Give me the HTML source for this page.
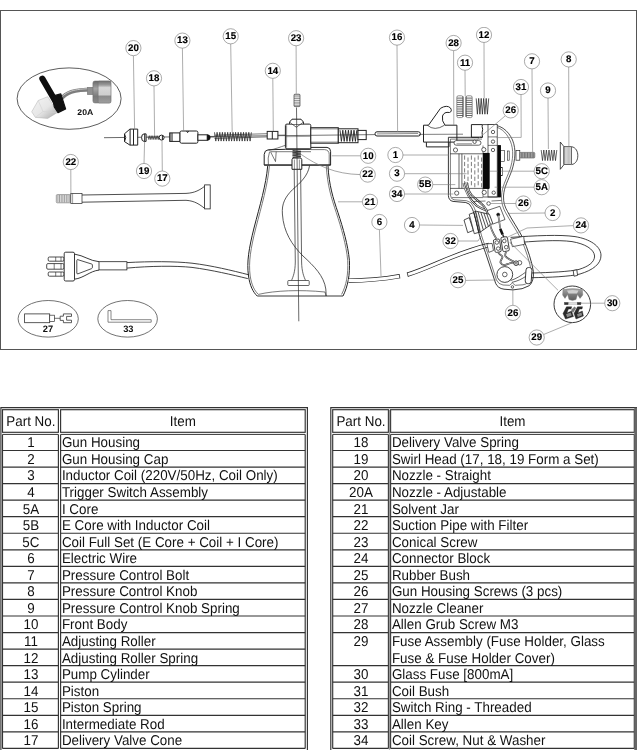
<!DOCTYPE html>
<html lang="en"><head><meta charset="utf-8"><title>Spray Gun Parts List</title>
<style>
html,body{margin:0;padding:0;background:#fff;}
body{width:637px;height:750px;overflow:hidden;position:relative;font-family:"Liberation Sans",Arial,sans-serif;}
svg{position:absolute;left:0;top:0;display:block;text-rendering:geometricPrecision;will-change:transform;font-family:"Liberation Sans",Arial,sans-serif;}
</style></head><body>
<svg width="637" height="750" viewBox="0 0 637 750">
<rect x="0.5" y="10.5" width="636" height="339" fill="#fff" stroke="#555" stroke-width="1"/>
<line x1="104.0" y1="137.7" x2="267.2" y2="135.8" stroke="#2a2a2a" stroke-width="0.7" />
<ellipse cx="69.1" cy="98.6" rx="52" ry="30.7" fill="#fff" stroke="#333" stroke-width="0.8"/>
<defs>
<linearGradient id="gnut" x1="0" y1="0" x2="0" y2="1"><stop offset="0" stop-color="#707070"/><stop offset="0.18" stop-color="#9a9a9a"/><stop offset="0.3" stop-color="#d8d8d8"/><stop offset="0.62" stop-color="#cfcfcf"/><stop offset="0.7" stop-color="#8c8c8c"/><stop offset="1" stop-color="#9e9e9e"/></linearGradient>
<linearGradient id="gnutl" x1="0" y1="0" x2="0" y2="1"><stop offset="0" stop-color="#6a6a6a"/><stop offset="0.35" stop-color="#a5a5a5"/><stop offset="0.7" stop-color="#7a7a7a"/><stop offset="1" stop-color="#8a8a8a"/></linearGradient>
<linearGradient id="gcone" x1="0" y1="0" x2="1" y2="1"><stop offset="0" stop-color="#f5f5f5"/><stop offset="0.55" stop-color="#e6e6e6"/><stop offset="1" stop-color="#a9a9a9"/></linearGradient>
</defs>
<path d="M60.5,99.5 C66,92.5 73,89.4 93,89.4" fill="none" stroke="#7d7d7d" stroke-width="4.0" />
<path d="M60.2,98.7 C66,91.7 73,88.7 93,88.7" fill="none" stroke="#c6c6c6" stroke-width="1.0" />
<rect x="87.2" y="87.2" width="6.6" height="7.6" rx="0" fill="#909090" stroke="#707070" stroke-width="0.4"/>
<rect x="92.9" y="81" width="18" height="22" rx="2" fill="url(#gnutl)" stroke="#6a6a6a" stroke-width="0.5"/>
<rect x="98.2" y="81" width="12.7" height="22" rx="1.2" fill="url(#gnut)" stroke="#6a6a6a" stroke-width="0.4"/>
<path d="M31.7,111.8 L38.2,100.5 L47.7,96.7 L54.3,107 L57,112.7 L47.7,118.4 L35.4,117.4 Z" fill="url(#gcone)" stroke="#b0b0b0" stroke-width="0.5" />
<path d="M38.2,100.5 L43,111.5 L35.4,117.4 M43,111.5 L57,112.7" fill="none" stroke="#d2d2d2" stroke-width="0.6" />
<path d="M42.4,78.8 L58.5,106.5" fill="none" stroke="#0e0e0e" stroke-width="6.2" stroke-linecap="round"/>
<path d="M52.4,96.2 L60.8,93.9 L65.6,109 L58,112.7 L54.3,107 Z" fill="#101010" stroke="#101010" stroke-width="1.2" stroke-linejoin="round"/>
<text transform="translate(85.3,115) scale(1.06,1)" font-size="8.2" font-weight="bold" text-anchor="middle" fill="#111">20A</text>
<path d="M124.5,133.8 L129.9,129.1 H137.7 V145.1 H129.9 L124.5,141.6 Z" fill="#fff" stroke="#222" stroke-width="1.0" />
<line x1="130.1" y1="129.1" x2="130.1" y2="145.1" stroke="#222" stroke-width="1.0" />
<line x1="133.5" y1="129.1" x2="133.5" y2="145.1" stroke="#222" stroke-width="1.0" />
<path d="M124.5,133.8 Q127,137.5 124.5,141.6" fill="none" stroke="#222" stroke-width="1.0" />
<path d="M146.1,133.9 H144 Q141.6,134 141.6,137.6 Q141.6,141.3 144,141.4 H146.1 Z" fill="#fff" stroke="#222" stroke-width="1.0" />
<line x1="144.7" y1="133.9" x2="144.7" y2="141.4" stroke="#222" stroke-width="1.0" />
<polyline points="148.0,135.7 148.8,139.5 149.6,135.7 150.4,139.5 151.2,135.7 152.0,139.5 152.8,135.7 153.7,139.5 154.5,135.7 155.3,139.5 156.1,135.7 156.9,139.5 157.7,135.7 158.5,139.5 159.3,135.7" fill="none" stroke="#222" stroke-width="0.6"/>
<circle cx="161.6" cy="137.6" r="2.5" fill="#fff" stroke="#222" stroke-width="1.0"/>
<line x1="162.4" y1="135.3" x2="162.4" y2="139.9" stroke="#222" stroke-width="1.0" />
<rect x="169.7" y="132.9" width="10.3" height="8.5" rx="0" fill="#fff" stroke="#222" stroke-width="1.0"/>
<line x1="170.2" y1="132.9" x2="170.2" y2="141.4" stroke="#222" stroke-width="0.6" />
<line x1="171.3" y1="132.9" x2="171.3" y2="141.4" stroke="#222" stroke-width="0.6" />
<line x1="172.4" y1="132.9" x2="172.4" y2="141.4" stroke="#222" stroke-width="0.6" />
<rect x="180" y="131" width="17.9" height="12.2" rx="1.5" fill="#fff" stroke="#222" stroke-width="1.0"/>
<path d="M186.6,131 L187.6,132.6 L188.6,131" fill="none" stroke="#222" stroke-width="1.0" />
<rect x="197.9" y="134.8" width="9.4" height="5.5" rx="0" fill="#fff" stroke="#222" stroke-width="1.0"/>
<path d="M207.3,134.8 H208.2 Q210.3,135 210.3,137.5 Q210.3,140 208.2,140.3 H207.3 Z" fill="#111" stroke="#111" stroke-width="0.5" />
<line x1="210.3" y1="137.0" x2="214.5" y2="137.0" stroke="#222" stroke-width="0.7" />
<polyline points="214.5,132.3 215.8,141.1 217.1,132.3 218.5,141.1 219.8,132.3 221.1,141.1 222.4,132.3 223.7,141.1 225.0,132.3 226.4,141.1 227.7,132.3 229.0,141.1 230.3,132.3 231.6,141.1 233.0,132.3 234.3,141.1 235.6,132.3 236.9,141.1 238.2,132.3 239.5,141.1 240.9,132.3 242.2,141.1 243.5,132.3 244.8,141.1 246.1,132.3 247.4,141.1 248.8,132.3 250.1,141.1 251.4,132.3" fill="none" stroke="#222" stroke-width="0.75"/>
<line x1="214.5" y1="135.2" x2="267.2" y2="133.7" stroke="#222" stroke-width="0.6" />
<line x1="214.5" y1="138.4" x2="267.2" y2="136.9" stroke="#222" stroke-width="0.6" />
<rect x="267.2" y="131.4" width="10.7" height="7.6" rx="0" fill="#fff" stroke="#222" stroke-width="1.0"/>
<line x1="272.3" y1="131.4" x2="272.3" y2="139.0" stroke="#222" stroke-width="1.0" />
<line x1="277.9" y1="135.2" x2="285.6" y2="135.1" stroke="#222" stroke-width="0.6" />
<rect x="294.0" y="94.2" width="6.0" height="12.4" rx="1" fill="#fff" stroke="#222" stroke-width="0.6"/>
<line x1="294.0" y1="95.1" x2="300.0" y2="95.1" stroke="#444" stroke-width="0.6" />
<line x1="294.0" y1="96.9" x2="300.0" y2="96.9" stroke="#444" stroke-width="0.6" />
<line x1="294.0" y1="98.6" x2="300.0" y2="98.6" stroke="#444" stroke-width="0.6" />
<line x1="294.0" y1="100.4" x2="300.0" y2="100.4" stroke="#444" stroke-width="0.6" />
<line x1="294.0" y1="102.2" x2="300.0" y2="102.2" stroke="#444" stroke-width="0.6" />
<line x1="294.0" y1="103.9" x2="300.0" y2="103.9" stroke="#444" stroke-width="0.6" />
<line x1="294.0" y1="105.7" x2="300.0" y2="105.7" stroke="#444" stroke-width="0.6" />
<path d="M267.7,166 C266,185 260,205 254,228 C249,248 246.5,262 248.5,276 C250,286 253,292 257.2,296" fill="none" stroke="#222" stroke-width="1.0" />
<path d="M328,166 C329,185 333,198 338,212.7 C343,228 348,245 349.4,260.4 C350,275 348,286 343,296" fill="none" stroke="#222" stroke-width="1.0" />
<path d="M269.4,166 C267.7,185 261.8,205 255.8,228 C250.8,248 248.3,262 250.2,276 C251.6,285 254.4,290.6 258.4,294.4 " fill="none" stroke="#222" stroke-width="0.6" />
<path d="M326.3,166 C327.3,185 331.3,198 336.3,212.7 C341.3,228 346.3,245 347.7,260.4 C348.3,275 346.4,285 341.6,294.4" fill="none" stroke="#222" stroke-width="0.6" />
<line x1="257.2" y1="296.0" x2="343.0" y2="296.0" stroke="#222" stroke-width="0.9" />
<path d="M258.4,294.4 C275,290.5 300,289.5 325,292 L326,296" fill="none" stroke="#222" stroke-width="0.6" />
<path d="M309.6,165.5 C308,176 300,183 292.7,189.5 C285,197 281.6,204 282.4,214 C283.5,232 292,245 303,256 C314,266 324,276 325.8,289 L326.2,296" fill="none" stroke="#222" stroke-width="0.75" />
<path d="M294.2,169 L295.3,262 C295.2,272 293,277 291.5,280.5 M300.6,169 L301.6,262 C301.8,272 304,277 305.6,280.5" fill="none" stroke="#222" stroke-width="0.7" />
<rect x="287.8" y="280.5" width="21.4" height="5.0" rx="0.8" fill="#fff" stroke="#222" stroke-width="0.7"/>
<path d="M264.2,165 V154.5 Q264.4,150.2 268.2,149.8 L285.4,149.3 H310.8 V147.4 H327 Q330.6,147.6 330.6,151.5 V165 Z" fill="#fff" stroke="#222" stroke-width="1.0" />
<path d="M311,149.6 H324.5 Q329.2,150 329.2,154.5 V165" fill="none" stroke="#222" stroke-width="0.6" />
<path d="M270.5,151.7 H311" fill="none" stroke="#222" stroke-width="0.6" />
<path d="M270.5,151.7 L275.5,161.6 L276.2,151.7 M269.6,151.7 Q267.4,158 268.4,164.6" fill="none" stroke="#222" stroke-width="0.6" />
<line x1="264.2" y1="165.1" x2="330.6" y2="165.1" stroke="#222" stroke-width="1.0" />
<path d="M268.4,150.3 C276,149 280,147 285.4,145.3" fill="none" stroke="#222" stroke-width="0.6" />
<polyline points="292.5,150.4 300.9,151.3 292.5,152.2 300.9,153.1 292.5,154.0 300.9,154.9 292.5,155.8 300.9,156.7 292.5,157.6" fill="none" stroke="#222" stroke-width="0.8"/>
<path d="M293,158 H300.8 L301.8,159.6 V169.3 H292 V159.6 Z" fill="#fff" stroke="#222" stroke-width="1.0" />
<line x1="294.4" y1="159.6" x2="294.4" y2="169.3" stroke="#222" stroke-width="0.5" />
<line x1="299.4" y1="159.6" x2="299.4" y2="169.3" stroke="#222" stroke-width="0.5" />
<rect x="285.4" y="124.1" width="25.4" height="24.7" rx="1.5" fill="#fff" stroke="#222" stroke-width="1.0"/>
<path d="M289.6,124.1 V122 L292,119.2 H301 L303.4,122 V124.1" fill="#fff" stroke="#222" stroke-width="1.0" />
<path d="M289.8,122.4 L296.3,127.2 L303.2,122.4" fill="none" stroke="#222" stroke-width="0.7" />
<line x1="286.6" y1="125.2" x2="286.6" y2="147.8" stroke="#222" stroke-width="0.5" />
<line x1="285.4" y1="136.7" x2="310.8" y2="136.4" stroke="#444" stroke-width="0.5" />
<rect x="310.8" y="127.7" width="27.5" height="15.5" rx="0" fill="#fff" stroke="#222" stroke-width="1.0"/>
<line x1="310.8" y1="128.9" x2="338.3" y2="128.9" stroke="#222" stroke-width="0.5" />
<line x1="310.8" y1="142.1" x2="338.3" y2="142.1" stroke="#222" stroke-width="0.5" />
<rect x="338.3" y="128.8" width="19.7" height="13.9" rx="0" fill="#fff" stroke="#222" stroke-width="1.0"/>
<polyline points="340.0,130.2 341.4,141.4 342.8,130.2 344.2,141.4 345.6,130.2 347.0,141.4 348.4,130.2 349.8,141.4 351.2,130.2 352.6,141.4 354.0,130.2 355.4,141.4 356.8,130.2" fill="none" stroke="#222" stroke-width="0.9"/>
<rect x="358.0" y="130.4" width="8.2" height="9.2" rx="0" fill="#fff" stroke="#222" stroke-width="1.0"/>
<rect x="375" y="131.8" width="45.4" height="4.2" rx="2" fill="#fff" stroke="#222" stroke-width="1.0"/>
<line x1="377.0" y1="133.9" x2="418.0" y2="133.5" stroke="#222" stroke-width="0.5" />
<line x1="277.9" y1="135.7" x2="375.0" y2="134.6" stroke="#2a2a2a" stroke-width="0.65" />
<rect x="456.8" y="95.8" width="6.2" height="21.8" rx="1.6" fill="#fff" stroke="#444" stroke-width="0.6"/>
<rect x="466" y="95.8" width="6.2" height="21.8" rx="1.6" fill="#fff" stroke="#444" stroke-width="0.6"/>
<line x1="457.0" y1="98.1" x2="462.9" y2="98.1" stroke="#666" stroke-width="1.0" />
<line x1="457.0" y1="100.3" x2="462.9" y2="100.3" stroke="#666" stroke-width="1.0" />
<line x1="457.0" y1="102.4" x2="462.9" y2="102.4" stroke="#666" stroke-width="1.0" />
<line x1="457.0" y1="104.6" x2="462.9" y2="104.6" stroke="#666" stroke-width="1.0" />
<line x1="457.0" y1="106.8" x2="462.9" y2="106.8" stroke="#666" stroke-width="1.0" />
<line x1="457.0" y1="109.0" x2="462.9" y2="109.0" stroke="#666" stroke-width="1.0" />
<line x1="457.0" y1="111.2" x2="462.9" y2="111.2" stroke="#666" stroke-width="1.0" />
<line x1="457.0" y1="113.3" x2="462.9" y2="113.3" stroke="#666" stroke-width="1.0" />
<line x1="457.0" y1="115.5" x2="462.9" y2="115.5" stroke="#666" stroke-width="1.0" />
<line x1="466.1" y1="98.1" x2="472.0" y2="98.1" stroke="#666" stroke-width="1.0" />
<line x1="466.1" y1="100.3" x2="472.0" y2="100.3" stroke="#666" stroke-width="1.0" />
<line x1="466.1" y1="102.4" x2="472.0" y2="102.4" stroke="#666" stroke-width="1.0" />
<line x1="466.1" y1="104.6" x2="472.0" y2="104.6" stroke="#666" stroke-width="1.0" />
<line x1="466.1" y1="106.8" x2="472.0" y2="106.8" stroke="#666" stroke-width="1.0" />
<line x1="466.1" y1="109.0" x2="472.0" y2="109.0" stroke="#666" stroke-width="1.0" />
<line x1="466.1" y1="111.2" x2="472.0" y2="111.2" stroke="#666" stroke-width="1.0" />
<line x1="466.1" y1="113.3" x2="472.0" y2="113.3" stroke="#666" stroke-width="1.0" />
<line x1="466.1" y1="115.5" x2="472.0" y2="115.5" stroke="#666" stroke-width="1.0" />
<line x1="463.0" y1="96.4" x2="463.0" y2="117.0" stroke="#333" stroke-width="0.7" />
<line x1="466.0" y1="96.4" x2="466.0" y2="117.0" stroke="#333" stroke-width="0.7" />
<line x1="476.2" y1="98.4" x2="477.4" y2="114.2" stroke="#222" stroke-width="0.75" />
<line x1="477.4" y1="114.2" x2="478.7" y2="98.4" stroke="#222" stroke-width="0.75" />
<line x1="478.7" y1="98.4" x2="479.9" y2="114.2" stroke="#222" stroke-width="0.75" />
<line x1="479.9" y1="114.2" x2="481.2" y2="98.4" stroke="#222" stroke-width="0.75" />
<line x1="481.2" y1="98.4" x2="482.4" y2="114.2" stroke="#222" stroke-width="0.75" />
<line x1="482.4" y1="114.2" x2="483.7" y2="98.4" stroke="#222" stroke-width="0.75" />
<line x1="483.7" y1="98.4" x2="484.9" y2="114.2" stroke="#222" stroke-width="0.75" />
<line x1="484.9" y1="114.2" x2="486.2" y2="98.4" stroke="#222" stroke-width="0.75" />
<line x1="486.2" y1="98.4" x2="487.4" y2="114.2" stroke="#222" stroke-width="0.75" />
<line x1="487.4" y1="114.2" x2="488.7" y2="98.4" stroke="#222" stroke-width="0.75" />
<path d="M423.5,125.2 H428.5 L440.5,108.3 Q447,104.5 450.5,108 Q452.5,111.5 449.5,112.5 Q444,111.5 442.5,116 Q441.5,121 445,125.2 H456.9 V142.1 H449 V146.9 H426.4 V142.1 H423.5 Z" fill="#fff" stroke="#222" stroke-width="1.0" />
<line x1="426.4" y1="142.1" x2="449.0" y2="142.1" stroke="#222" stroke-width="1.0" />
<path d="M427.3,125.2 Q434.5,131.6 444.6,125.2" fill="none" stroke="#222" stroke-width="0.7" />
<line x1="418.8" y1="134.4" x2="463.0" y2="134.2" stroke="#2a2a2a" stroke-width="0.6" />
<path d="M126.9,262.6 C150,261.3 175,261.3 192,263.2 C212,265.6 232,270.5 248.8,274.8 M126.9,268.1 C150,266 175,265.6 192,267.4 C212,270 232,274.8 247.8,278.6" fill="none" stroke="#222" stroke-width="0.85" />
<path d="M348.6,280.6 C365,280.6 385,278.8 399.5,276.2" fill="none" stroke="#222" stroke-width="4.4"/>
<path d="M348.6,280.6 C365,280.6 385,278.8 399.5,276.2" fill="none" stroke="#fff" stroke-width="3.0"/>
<line x1="399.2" y1="274.0" x2="399.9" y2="278.4" stroke="#222" stroke-width="0.7" />
<path d="M407.6,274.6 C430,268 455,253 489,245" fill="none" stroke="#222" stroke-width="4.4"/>
<path d="M407.6,274.6 C430,268 455,253 489,245" fill="none" stroke="#fff" stroke-width="3.0"/>
<line x1="407.2" y1="272.5" x2="408.2" y2="276.8" stroke="#222" stroke-width="0.7" />
<path d="M510.6,237.4 C535,235.6 560,234.4 575,236.6 C590,239 600.5,246 601,255 C601.2,264 593,270 580,274 C570,276.6 550,277.4 531,277.7 M510.6,243.2 C535,241 558,239.6 572,241.6 C585,243.8 594,249 594.6,256 C594.6,262.5 588,266.6 579,269.4 C570,271.6 550,272.6 531,273" fill="#fff" stroke="#222" stroke-width="0.85" />
<path d="M573.2,270.6 L576.8,269.8 L577.6,275.4 L574,276.2 Z" fill="#fff" stroke="#222" stroke-width="0.8" />
<path d="M482.4,124.6 H488 C500,124 508,130 512.5,140 C516.5,150 515,160 512,170 C508,181 504,187 503.5,196 C503.3,203 505,207 507.5,211.5" fill="#fff" stroke="#222" stroke-width="0.8" />
<path d="M490,126 C500,126.5 506,131.5 510.3,141 C514,150 513,160 510,169.5 C506,180 502,186.5 501.5,196 C501.3,203 503,208 505.5,212.5" fill="none" stroke="#222" stroke-width="0.6" />
<path d="M471.4,137.3 V124.6 H482.4 C481.4,127 483.4,129 482.4,131 C481.4,133.5 483,135.5 482.4,137.3 Z" fill="#fff" stroke="#222" stroke-width="1.0" />
<path d="M448.4,195.5 V137.3 H482.4 M448.4,195.5 Q448.6,200.6 453,201.4 L465.8,202.5 Q470,203.2 471.6,207.5" fill="none" stroke="#222" stroke-width="0.9" />
<path d="M450.4,195 V139.1 H482 M450.4,195 Q450.8,199.3 454,199.8 L466.4,200.7 Q471.6,201.6 473.6,206.5" fill="none" stroke="#222" stroke-width="0.6" />
<rect x="488.0" y="124.6" width="9.2" height="72.4" rx="0" fill="#fff" stroke="#222" stroke-width="0.7"/>
<line x1="488.0" y1="136.9" x2="497.2" y2="136.9" stroke="#222" stroke-width="0.6" />
<line x1="488.0" y1="145.4" x2="497.2" y2="145.4" stroke="#222" stroke-width="0.6" />
<circle cx="493.0" cy="132.0" r="1.7" fill="#fff" stroke="#222" stroke-width="0.7"/>
<circle cx="493.0" cy="141.6" r="1.7" fill="#fff" stroke="#222" stroke-width="0.7"/>
<circle cx="493.0" cy="150.0" r="1.7" fill="#fff" stroke="#222" stroke-width="0.7"/>
<circle cx="493.7" cy="192.7" r="1.7" fill="#fff" stroke="#222" stroke-width="0.7"/>
<rect x="454" y="140.6" width="27" height="4.6" rx="2.3" fill="#fff" stroke="#222" stroke-width="0.7"/>
<path d="M456.5,143.8 H472" fill="none" stroke="#222" stroke-width="0.5" />
<circle cx="474.6" cy="141.8" r="1.7" fill="#fff" stroke="#222" stroke-width="0.7"/>
<line x1="450.2" y1="153.8" x2="483.0" y2="153.8" stroke="#222" stroke-width="0.7" />
<line x1="450.2" y1="188.4" x2="483.0" y2="188.4" stroke="#222" stroke-width="0.7" />
<line x1="459.0" y1="153.8" x2="459.0" y2="188.4" stroke="#222" stroke-width="0.7" />
<line x1="461.9" y1="153.8" x2="461.9" y2="188.4" stroke="#222" stroke-width="0.7" />
<line x1="483.0" y1="145.5" x2="483.0" y2="197.0" stroke="#222" stroke-width="0.6" />
<line x1="464.6" y1="155.5" x2="464.6" y2="187.5" stroke="#444" stroke-width="0.7" stroke-dasharray="4.2 2.2"/>
<line x1="468.0" y1="157.5" x2="468.0" y2="187.5" stroke="#444" stroke-width="0.7" stroke-dasharray="4.2 2.2"/>
<line x1="471.4" y1="155.5" x2="471.4" y2="187.5" stroke="#444" stroke-width="0.7" stroke-dasharray="4.2 2.2"/>
<line x1="474.8" y1="157.5" x2="474.8" y2="187.5" stroke="#444" stroke-width="0.7" stroke-dasharray="4.2 2.2"/>
<line x1="478.2" y1="155.5" x2="478.2" y2="187.5" stroke="#444" stroke-width="0.7" stroke-dasharray="4.2 2.2"/>
<line x1="481.6" y1="157.5" x2="481.6" y2="187.5" stroke="#444" stroke-width="0.7" stroke-dasharray="4.2 2.2"/>
<circle cx="455.5" cy="150.0" r="2.1" fill="#fff" stroke="#222" stroke-width="0.7"/>
<circle cx="483.8" cy="149.6" r="2.1" fill="#fff" stroke="#222" stroke-width="0.7"/>
<circle cx="456.7" cy="193.1" r="2.1" fill="#fff" stroke="#222" stroke-width="0.7"/>
<circle cx="484.2" cy="192.4" r="2.1" fill="#fff" stroke="#222" stroke-width="0.7"/>
<rect x="483.2" y="153.1" width="6.0" height="35.6" rx="0" fill="#0a0a0a" stroke="#0a0a0a" stroke-width="0.3"/>
<rect x="497.9" y="145.4" width="2.8" height="51.5" rx="0" fill="#0a0a0a" stroke="#0a0a0a" stroke-width="0.3"/>
<rect x="500.7" y="150.3" width="3.6" height="11.3" rx="0" fill="#fff" stroke="#222" stroke-width="0.6"/>
<rect x="507.5" y="151.0" width="1.7" height="9.2" rx="0" fill="#fff" stroke="#222" stroke-width="0.6"/>
<rect x="500.7" y="167.3" width="1.7" height="8.4" rx="0" fill="#fff" stroke="#222" stroke-width="0.6"/>
<path d="M463.6,183.3 C466,193 470,200 476.3,205.3 C484,210.5 492,212 497.1,214.6" fill="none" stroke="#2a2a2a" stroke-width="2.1" />
<path d="M463.6,183.3 C466,193 470,200 476.3,205.3 C484,210.5 492,212 497.1,214.6" fill="none" stroke="#fff" stroke-width="0.9" />
<path d="M466.4,182.2 C468,190 470,194 473,196.5 C478,201 482,204 484,206.4 C487,210 489,217 490,224" fill="none" stroke="#2a2a2a" stroke-width="2.1" />
<path d="M466.4,182.2 C468,190 470,194 473,196.5 C478,201 482,204 484,206.4 C487,210 489,217 490,224" fill="none" stroke="#fff" stroke-width="0.9" />
<path d="M452,197.6 H483 M474,201.5 L485.5,201 M491.5,201 L501.5,200.4" fill="none" stroke="#222" stroke-width="0.6" />
<line x1="483.0" y1="197.0" x2="501.0" y2="197.0" stroke="#222" stroke-width="0.7" />
<circle cx="488.6" cy="203.5" r="1.8" fill="#fff" stroke="#222" stroke-width="0.7"/>
<path d="M487.1,210.6 L499.8,206.3 L505,219.5 L492.5,224.2 Z" fill="#fff" stroke="#222" stroke-width="0.7" />
<path d="M464,220 L469.2,217.6 L473.4,230.4 L467.7,232.7 Z" fill="#fff" stroke="#222" stroke-width="0.8" />
<path d="M469.2,214.3 L473.9,212.5 L479,232.3 L474.3,233.7 Z" fill="#fff" stroke="#222" stroke-width="0.8" />
<path d="M473.9,212.5 L475.3,211 L489.4,214.3 L492.7,223.3 L480,232.3 L479,232.3 Z" fill="#fff" stroke="#222" stroke-width="0.8" />
<line x1="475.3" y1="211.0" x2="480.0" y2="232.3" stroke="#222" stroke-width="0.8" />
<line x1="478.1" y1="212.0" x2="483.3" y2="229.9" stroke="#222" stroke-width="0.8" />
<line x1="480.9" y1="212.5" x2="486.1" y2="228.0" stroke="#222" stroke-width="0.8" />
<line x1="483.8" y1="212.9" x2="488.5" y2="226.6" stroke="#222" stroke-width="0.8" />
<line x1="486.6" y1="213.4" x2="490.8" y2="225.2" stroke="#222" stroke-width="0.8" />
<path d="M471.6,207.5 C474,212 475.5,218 478,230 C480,238 483,246 485.5,252.8 L495.6,283.2 Q497.8,288.4 504,289.2 L513,289.9 Q523,289.6 529.4,285.6 Q534,281 533.4,271.6 C532,262 527.5,248.5 523.2,238.7 C519,230 511.5,219.5 507.5,211.5" fill="none" stroke="#222" stroke-width="0.9" />
<path d="M473.6,206.5 C476,211 477.6,218 480,230 C482,238 485,246 487.5,252.5 L496.4,279.8 Q498.4,284.4 503,285 L509.6,285.3 L512.4,282.9 L515.2,285.3 L523,284.8 Q529,283.6 530.6,279 Q531.8,276 531.4,271.8 C530,262.5 525.5,249 521.3,239.5 C517,231 509.5,220 505.5,212.5" fill="none" stroke="#222" stroke-width="0.6" />
<circle cx="498.2" cy="214.6" r="1.6" fill="#111" stroke="#111" stroke-width="0.4"/>
<path d="M498.3,215.5 L500.3,228.5" fill="none" stroke="#333" stroke-width="1.6" />
<path d="M498.3,215.5 L500.3,228.5" fill="none" stroke="#fff" stroke-width="0.6" />
<path d="M500.2,228.8 L502.6,234.4" fill="none" stroke="#111" stroke-width="2.6" />
<path d="M502.6,234.4 L504.5,238.5" fill="none" stroke="#333" stroke-width="1.4" />
<path d="M490,224 C491,230 493.5,234 496.3,238.6" fill="none" stroke="#333" stroke-width="1.6" />
<path d="M490,224 C491,230 493.5,234 496.3,238.6" fill="none" stroke="#fff" stroke-width="0.6" />
<rect x="494.2" y="239.2" width="6.2" height="13" rx="1.4" fill="#fff" stroke="#222" stroke-width="0.8" transform="rotate(-9 497.3 245.7)"/>
<rect x="501.8" y="236.9" width="6.6" height="14.4" rx="1.4" fill="#fff" stroke="#222" stroke-width="0.8" transform="rotate(-9 505.1 244.1)"/>
<circle cx="496.8" cy="242.5" r="1.8" fill="#fff" stroke="#222" stroke-width="0.7"/>
<circle cx="498.2" cy="248.6" r="1.8" fill="#fff" stroke="#222" stroke-width="0.7"/>
<circle cx="504.3" cy="241.0" r="1.8" fill="#fff" stroke="#222" stroke-width="0.7"/>
<circle cx="506.2" cy="247.2" r="1.8" fill="#fff" stroke="#222" stroke-width="0.7"/>
<path d="M486.9,243.9 L492.1,243.4 L493.5,250.5 L488.8,252.4 Z" fill="#fff" stroke="#222" stroke-width="0.7" />
<path d="M510.5,239.2 L523.7,236.3 L524.6,244.3 L512.4,246.7 Z" fill="#fff" stroke="#222" stroke-width="0.7" />
<path d="M498.2,252.4 C499.5,255 502.8,255.6 502.5,257.1 C502,259.5 499.6,261 500.6,262.7 C501.4,264.4 502.6,265.1 503.9,265.1 C507,264.6 510,262.6 514.2,262.7" fill="none" stroke="#2a2a2a" stroke-width="1.7" />
<path d="M498.2,252.4 C499.5,255 502.8,255.6 502.5,257.1 C502,259.5 499.6,261 500.6,262.7 C501.4,264.4 502.6,265.1 503.9,265.1 C507,264.6 510,262.6 514.2,262.7" fill="none" stroke="#fff" stroke-width="0.6" />
<path d="M506.2,251.4 C505.6,253 504.8,254.6 505.3,256.1 C507,258.6 510.5,260 513.8,261.6" fill="none" stroke="#2a2a2a" stroke-width="1.7" />
<path d="M506.2,251.4 C505.6,253 504.8,254.6 505.3,256.1 C507,258.6 510.5,260 513.8,261.6" fill="none" stroke="#fff" stroke-width="0.6" />
<circle cx="519.6" cy="262.8" r="2.2" fill="#fff" stroke="#222" stroke-width="0.7"/>
<circle cx="516.1" cy="263.2" r="2.3" fill="#fff" stroke="#222" stroke-width="0.9"/>
<circle cx="516.1" cy="263.2" r="0.9" fill="#fff" stroke="#222" stroke-width="0.6"/>
<circle cx="504.8" cy="274.5" r="7.9" fill="#fff" stroke="#222" stroke-width="0.85"/>
<circle cx="504.8" cy="274.5" r="2.3" fill="#fff" stroke="#222" stroke-width="0.7"/>
<path d="M510.5,280.6 C517,278.5 521,275.5 525.6,272.2" fill="none" stroke="#222" stroke-width="0.7" />
<path d="M511.8,282.4 C518,281 522,279 526,276.2" fill="none" stroke="#222" stroke-width="0.7" />
<rect x="525.6" y="267.5" width="6" height="16.2" rx="2.6" fill="#fff" stroke="#222" stroke-width="0.85" transform="rotate(4 528.6 275.6)"/>
<circle cx="512.4" cy="286.9" r="1.25" fill="#fff" stroke="#222" stroke-width="0.7"/>
<rect x="516.0" y="150.4" width="3.8" height="9.8" rx="0" fill="#fff" stroke="#222" stroke-width="0.7"/>
<rect x="519.8" y="152.4" width="15" height="5.6" rx="1" fill="#bbb" stroke="#555" stroke-width="0.6"/>
<line x1="521.3" y1="152.6" x2="521.3" y2="157.8" stroke="#555" stroke-width="0.7" />
<line x1="522.8" y1="152.6" x2="522.8" y2="157.8" stroke="#555" stroke-width="0.7" />
<line x1="524.4" y1="152.6" x2="524.4" y2="157.8" stroke="#555" stroke-width="0.7" />
<line x1="525.9" y1="152.6" x2="525.9" y2="157.8" stroke="#555" stroke-width="0.7" />
<line x1="527.5" y1="152.6" x2="527.5" y2="157.8" stroke="#555" stroke-width="0.7" />
<line x1="529.1" y1="152.6" x2="529.1" y2="157.8" stroke="#555" stroke-width="0.7" />
<line x1="530.6" y1="152.6" x2="530.6" y2="157.8" stroke="#555" stroke-width="0.7" />
<line x1="532.2" y1="152.6" x2="532.2" y2="157.8" stroke="#555" stroke-width="0.7" />
<line x1="533.7" y1="152.6" x2="533.7" y2="157.8" stroke="#555" stroke-width="0.7" />
<line x1="541.2" y1="150.0" x2="542.5" y2="160.6" stroke="#222" stroke-width="0.7" />
<line x1="542.5" y1="160.6" x2="543.8" y2="150.0" stroke="#222" stroke-width="0.7" />
<line x1="543.8" y1="150.0" x2="545.1" y2="160.6" stroke="#222" stroke-width="0.7" />
<line x1="545.1" y1="160.6" x2="546.4" y2="150.0" stroke="#222" stroke-width="0.7" />
<line x1="546.4" y1="150.0" x2="547.7" y2="160.6" stroke="#222" stroke-width="0.7" />
<line x1="547.7" y1="160.6" x2="549.0" y2="150.0" stroke="#222" stroke-width="0.7" />
<line x1="549.0" y1="150.0" x2="550.3" y2="160.6" stroke="#222" stroke-width="0.7" />
<line x1="550.3" y1="160.6" x2="551.6" y2="150.0" stroke="#222" stroke-width="0.7" />
<line x1="551.6" y1="150.0" x2="552.9" y2="160.6" stroke="#222" stroke-width="0.7" />
<line x1="552.9" y1="160.6" x2="554.2" y2="150.0" stroke="#222" stroke-width="0.7" />
<line x1="554.2" y1="150.0" x2="555.5" y2="160.6" stroke="#222" stroke-width="0.7" />
<line x1="555.5" y1="160.6" x2="556.8" y2="150.0" stroke="#222" stroke-width="0.7" />
<path d="M560.3,142 V169.3 L564,164.6 V146.7 Z" fill="#fff" stroke="#222" stroke-width="0.8" />
<path d="M571.6,146.7 C576,147.5 577.8,151.5 577.8,155.6 C577.8,160 576,163.8 571.6,164.6" fill="#fff" stroke="#222" stroke-width="0.8" />
<rect x="564.0" y="146.7" width="7.6" height="17.9" rx="0" fill="#fff" stroke="#222" stroke-width="0.7"/>
<line x1="564.6" y1="147.0" x2="564.6" y2="164.3" stroke="#777" stroke-width="0.5" />
<line x1="565.9" y1="147.0" x2="565.9" y2="164.3" stroke="#777" stroke-width="0.5" />
<line x1="567.2" y1="147.0" x2="567.2" y2="164.3" stroke="#777" stroke-width="0.5" />
<line x1="568.4" y1="147.0" x2="568.4" y2="164.3" stroke="#777" stroke-width="0.5" />
<line x1="569.7" y1="147.0" x2="569.7" y2="164.3" stroke="#777" stroke-width="0.5" />
<line x1="571.0" y1="147.0" x2="571.0" y2="164.3" stroke="#777" stroke-width="0.5" />
<rect x="56.3" y="194.6" width="14.5" height="8.2" rx="1" fill="#f0f0f0" stroke="#666" stroke-width="0.6"/>
<line x1="57.9" y1="195.0" x2="57.9" y2="202.4" stroke="#7a7a7a" stroke-width="0.7" />
<line x1="59.5" y1="195.0" x2="59.5" y2="202.4" stroke="#7a7a7a" stroke-width="0.7" />
<line x1="61.2" y1="195.0" x2="61.2" y2="202.4" stroke="#7a7a7a" stroke-width="0.7" />
<line x1="62.9" y1="195.0" x2="62.9" y2="202.4" stroke="#7a7a7a" stroke-width="0.7" />
<line x1="64.6" y1="195.0" x2="64.6" y2="202.4" stroke="#7a7a7a" stroke-width="0.7" />
<line x1="66.3" y1="195.0" x2="66.3" y2="202.4" stroke="#7a7a7a" stroke-width="0.7" />
<line x1="68.0" y1="195.0" x2="68.0" y2="202.4" stroke="#7a7a7a" stroke-width="0.7" />
<line x1="69.8" y1="195.0" x2="69.8" y2="202.4" stroke="#7a7a7a" stroke-width="0.7" />
<rect x="70.8" y="193.4" width="11.2" height="10.1" rx="0" fill="#fff" stroke="#333" stroke-width="0.75"/>
<line x1="72.6" y1="193.4" x2="72.6" y2="203.5" stroke="#444" stroke-width="0.5" />
<path d="M82,195 L186,193.4 C195,193 200,189.8 204.6,186.3 M82,202.2 L186,200.3 C195,200.8 200,204.8 204.6,208.3" fill="none" stroke="#222" stroke-width="0.8" />
<rect x="204.6" y="184.9" width="5.6" height="24.0" rx="0" fill="#fff" stroke="#222" stroke-width="0.8"/>
<rect x="48.2" y="257" width="15.799999999999997" height="4.199999999999989" rx="1.2" fill="#fff" stroke="#222" stroke-width="0.8"/>
<line x1="55.7" y1="257.0" x2="55.7" y2="261.2" stroke="#222" stroke-width="0.6" />
<line x1="61.0" y1="257.0" x2="61.0" y2="261.2" stroke="#222" stroke-width="0.6" />
<rect x="46.7" y="263.6" width="17.299999999999997" height="5.599999999999966" rx="1.2" fill="#fff" stroke="#222" stroke-width="0.8"/>
<line x1="54.2" y1="263.6" x2="54.2" y2="269.2" stroke="#222" stroke-width="0.6" />
<line x1="61.0" y1="263.6" x2="61.0" y2="269.2" stroke="#222" stroke-width="0.6" />
<rect x="48.2" y="272" width="15.799999999999997" height="4.199999999999989" rx="1.2" fill="#fff" stroke="#222" stroke-width="0.8"/>
<line x1="55.7" y1="272.0" x2="55.7" y2="276.2" stroke="#222" stroke-width="0.6" />
<line x1="61.0" y1="272.0" x2="61.0" y2="276.2" stroke="#222" stroke-width="0.6" />
<rect x="64.2" y="252.2" width="10.3" height="28.8" rx="1.5" fill="#fff" stroke="#222" stroke-width="0.9"/>
<path d="M74.5,254.1 C84,255.5 90,261 99,261.7 M74.5,279.2 C84,278 90,271 99,270.1" fill="none" stroke="#222" stroke-width="0.9" />
<path d="M77.6,259.6 Q76.8,259.6 76.8,260.6 V273 Q76.8,274.2 78,273.8 L91.6,268.6 Q92.4,268.2 92.4,267.4 V264.9 Q92.4,264.2 91.6,264 Z" fill="#fff" stroke="#222" stroke-width="0.8" />
<rect x="99.0" y="261.7" width="27.9" height="8.2" rx="0" fill="#fff" stroke="#222" stroke-width="0.8"/>
<ellipse cx="48.2" cy="318.8" rx="30.1" ry="18.3" fill="#fff" stroke="#444" stroke-width="0.75"/>
<ellipse cx="127.6" cy="318.8" rx="29.8" ry="18.3" fill="#fff" stroke="#444" stroke-width="0.75"/>
<rect x="24.6" y="313.9" width="25.1" height="8.8" rx="0" fill="#fff" stroke="#333" stroke-width="0.8"/>
<rect x="49.7" y="315.2" width="4.7" height="6.2" rx="0" fill="#fff" stroke="#333" stroke-width="0.7"/>
<line x1="54.4" y1="318.3" x2="60.2" y2="318.3" stroke="#333" stroke-width="0.7" />
<path d="M71.5,313.9 H63.4 V316.2 H60.2 V320.4 H63.4 V322.7 H71.5 V320.2 H66.6 V316.4 H71.5 Z" fill="#fff" stroke="#333" stroke-width="0.8" />
<path d="M108,310.6 V322.2 H151.2 V319.7 H111 V310.6 Z" fill="#fff" stroke="#555" stroke-width="0.7" />
<text x="47.9" y="332.2" font-size="9.3" font-weight="bold" text-anchor="middle" fill="#111">27</text>
<text x="128.3" y="332.2" font-size="9.3" font-weight="bold" text-anchor="middle" fill="#111">33</text>
<circle cx="572.3" cy="304.3" r="18.3" fill="#fff" stroke="#222" stroke-width="0.9"/>
<linearGradient id="gfh" x1="0" y1="0" x2="0" y2="1"><stop offset="0" stop-color="#a8a8a8"/><stop offset="0.45" stop-color="#808080"/><stop offset="1" stop-color="#5c5c5c"/></linearGradient>
<path d="M563,289.6 Q572.5,287.6 582.4,289.6 L582.8,295 L580,298.4 L577.5,294.5 L576,299.6 L572.5,300.6 L569,299.6 L567.6,294.5 L565,298.4 L562.6,295 Z" fill="url(#gfh)" stroke="#777" stroke-width="0.4" />
<path d="M567,290.5 Q572.5,289.4 578.5,290.5 L577,293.5 H568.5 Z" fill="#cfcfcf" stroke="none" stroke-width="0" />
<rect x="564.4" y="302.3" width="16.6" height="2.5" rx="0" fill="#dedede" stroke="#aaa" stroke-width="0.3"/>
<rect x="564.4" y="302.4" width="3.8" height="2.3" rx="0" fill="#333" stroke="#333" stroke-width="0.2"/>
<rect x="577.2" y="302.4" width="3.8" height="2.3" rx="0" fill="#333" stroke="#333" stroke-width="0.2"/>
<path d="M563,313.5 L566.5,306.8 H571.8 L571,309 H568.5 L566.8,313 L571.5,311 L573.5,316.5 L565.5,319 Z" fill="#2b2b2b" stroke="#222" stroke-width="0.4" />
<path d="M574,313.5 L577.5,306.8 H582.5 L582,309 H579.5 L577.8,313 L582.3,311 L583.4,316 L576,319 Z" fill="#2b2b2b" stroke="#222" stroke-width="0.4" />
<path d="M566,314.2 L570.6,312.5 L571.8,315.6 L567.2,317.2 Z M577,314.2 L581.4,312.5 L582.2,315.3 L577.8,317 Z" fill="#8a8a8a" stroke="none" stroke-width="0" />
<path d="M571,310 L574.5,306.5 L576.2,308 L573,313 Z" fill="#777" stroke="none" stroke-width="0" />
<polyline points="133.4,55.5 134.6,129.0" fill="none" stroke="#808080" stroke-width="0.65"/>
<polyline points="182.4,48.0 183.6,131.0" fill="none" stroke="#808080" stroke-width="0.65"/>
<polyline points="230.7,43.7 232.2,132.5" fill="none" stroke="#808080" stroke-width="0.65"/>
<polyline points="154.0,85.7 154.6,136.0" fill="none" stroke="#808080" stroke-width="0.65"/>
<polyline points="272.8,78.2 273.3,131.0" fill="none" stroke="#808080" stroke-width="0.65"/>
<polyline points="397.0,45.0 397.6,132.0" fill="none" stroke="#808080" stroke-width="0.65"/>
<polyline points="453.6,50.4 453.8,125.0" fill="none" stroke="#808080" stroke-width="0.65"/>
<polyline points="465.0,70.1 465.2,96.0" fill="none" stroke="#808080" stroke-width="0.65"/>
<polyline points="484.0,42.3 484.2,98.0" fill="none" stroke="#808080" stroke-width="0.65"/>
<polyline points="532.0,68.7 532.6,152.0" fill="none" stroke="#808080" stroke-width="0.65"/>
<polyline points="568.7,66.8 568.9,146.0" fill="none" stroke="#808080" stroke-width="0.65"/>
<polyline points="548.0,97.9 548.4,149.0" fill="none" stroke="#808080" stroke-width="0.65"/>
<polyline points="521.0,94.4 521.2,137.4 496.5,137.6" fill="none" stroke="#808080" stroke-width="0.65"/>
<polyline points="505.5,115.6 475.3,141.2" fill="none" stroke="#808080" stroke-width="0.65"/>
<polyline points="144.0,163.6 144.6,141.5" fill="none" stroke="#808080" stroke-width="0.65"/>
<polyline points="162.3,171.2 162.0,140.5" fill="none" stroke="#808080" stroke-width="0.65"/>
<polyline points="70.8,169.4 70.9,195.0" fill="none" stroke="#808080" stroke-width="0.65"/>
<polyline points="360.8,155.8 331.8,155.8" fill="none" stroke="#808080" stroke-width="0.65"/>
<path d="M360.3,174.6 C335,174 318,166 300.5,154" fill="none" stroke="#808080" stroke-width="0.7"/>
<polyline points="362.6,201.8 338.0,201.8" fill="none" stroke="#808080" stroke-width="0.65"/>
<polyline points="402.8,155.0 448.7,155.0" fill="none" stroke="#808080" stroke-width="0.65"/>
<polyline points="404.4,173.7 466.6,173.7" fill="none" stroke="#808080" stroke-width="0.65"/>
<polyline points="432.6,184.6 455.3,184.6" fill="none" stroke="#808080" stroke-width="0.65"/>
<polyline points="404.4,194.0 453.4,194.0" fill="none" stroke="#808080" stroke-width="0.65"/>
<polyline points="534.3,171.2 482.4,171.2" fill="none" stroke="#808080" stroke-width="0.65"/>
<polyline points="534.3,187.2 494.6,187.2" fill="none" stroke="#808080" stroke-width="0.65"/>
<polyline points="516.0,203.5 491.0,203.5" fill="none" stroke="#808080" stroke-width="0.65"/>
<polyline points="545.2,213.0 509.0,213.4" fill="none" stroke="#808080" stroke-width="0.65"/>
<polyline points="573.6,225.6 527.0,228.0 504.3,238.7" fill="none" stroke="#808080" stroke-width="0.65"/>
<polyline points="419.4,225.0 463.0,225.4" fill="none" stroke="#808080" stroke-width="0.65"/>
<polyline points="457.9,241.0 478.0,241.0 481.0,236.0" fill="none" stroke="#808080" stroke-width="0.65"/>
<polyline points="465.4,280.4 497.0,280.0" fill="none" stroke="#808080" stroke-width="0.65"/>
<polyline points="512.9,305.3 512.8,287.8" fill="none" stroke="#808080" stroke-width="0.65"/>
<polyline points="379.4,229.4 381.0,276.0" fill="none" stroke="#808080" stroke-width="0.65"/>
<polyline points="509.7,242.0 558.0,290.3" fill="none" stroke="#808080" stroke-width="0.65"/>
<polyline points="604.8,303.2 580.4,303.2" fill="none" stroke="#808080" stroke-width="0.65"/>
<polyline points="543.4,334.6 572.7,322.5" fill="none" stroke="#808080" stroke-width="0.65"/>
<line x1="296.1" y1="45.6" x2="296.3" y2="93.8" stroke="#808080" stroke-width="0.65" />
<line x1="296.5" y1="107.5" x2="298.8" y2="321.3" stroke="#2a2a2a" stroke-width="0.7" />
<rect x="483.2" y="153.1" width="6.0" height="35.6" rx="0" fill="#0a0a0a" stroke="#0a0a0a" stroke-width="0.3"/>
<rect x="497.9" y="145.4" width="2.8" height="51.5" rx="0" fill="#0a0a0a" stroke="#0a0a0a" stroke-width="0.3"/>
<circle cx="133.4" cy="48.1" r="7.6" fill="#fff" stroke="#707070" stroke-width="0.6"/>
<text x="133.4" y="50.9" font-size="9.7" font-weight="bold" text-anchor="middle" fill="#000" stroke="#000" stroke-width="0.15">20</text>
<circle cx="182.4" cy="40.6" r="7.6" fill="#fff" stroke="#707070" stroke-width="0.6"/>
<text x="182.4" y="43.4" font-size="9.7" font-weight="bold" text-anchor="middle" fill="#000" stroke="#000" stroke-width="0.15">13</text>
<circle cx="230.7" cy="36.3" r="7.6" fill="#fff" stroke="#707070" stroke-width="0.6"/>
<text x="230.7" y="39.0" font-size="9.7" font-weight="bold" text-anchor="middle" fill="#000" stroke="#000" stroke-width="0.15">15</text>
<circle cx="154.0" cy="78.3" r="7.6" fill="#fff" stroke="#707070" stroke-width="0.6"/>
<text x="154.0" y="81.0" font-size="9.7" font-weight="bold" text-anchor="middle" fill="#000" stroke="#000" stroke-width="0.15">18</text>
<circle cx="296.1" cy="38.2" r="7.6" fill="#fff" stroke="#707070" stroke-width="0.6"/>
<text x="296.1" y="41.0" font-size="9.7" font-weight="bold" text-anchor="middle" fill="#000" stroke="#000" stroke-width="0.15">23</text>
<circle cx="272.8" cy="70.8" r="7.6" fill="#fff" stroke="#707070" stroke-width="0.6"/>
<text x="272.8" y="73.5" font-size="9.7" font-weight="bold" text-anchor="middle" fill="#000" stroke="#000" stroke-width="0.15">14</text>
<circle cx="397.0" cy="37.6" r="7.6" fill="#fff" stroke="#707070" stroke-width="0.6"/>
<text x="397.0" y="40.4" font-size="9.7" font-weight="bold" text-anchor="middle" fill="#000" stroke="#000" stroke-width="0.15">16</text>
<circle cx="453.6" cy="43.0" r="7.6" fill="#fff" stroke="#707070" stroke-width="0.6"/>
<text x="453.6" y="45.8" font-size="9.7" font-weight="bold" text-anchor="middle" fill="#000" stroke="#000" stroke-width="0.15">28</text>
<circle cx="465.0" cy="62.7" r="7.6" fill="#fff" stroke="#707070" stroke-width="0.6"/>
<text x="465.0" y="65.5" font-size="9.7" font-weight="bold" text-anchor="middle" fill="#000" stroke="#000" stroke-width="0.15">11</text>
<circle cx="484.0" cy="34.9" r="7.6" fill="#fff" stroke="#707070" stroke-width="0.6"/>
<text x="484.0" y="37.6" font-size="9.7" font-weight="bold" text-anchor="middle" fill="#000" stroke="#000" stroke-width="0.15">12</text>
<circle cx="532.0" cy="61.3" r="7.6" fill="#fff" stroke="#707070" stroke-width="0.6"/>
<text x="532.0" y="64.0" font-size="9.7" font-weight="bold" text-anchor="middle" fill="#000" stroke="#000" stroke-width="0.15">7</text>
<circle cx="568.7" cy="59.4" r="7.6" fill="#fff" stroke="#707070" stroke-width="0.6"/>
<text x="568.7" y="62.1" font-size="9.7" font-weight="bold" text-anchor="middle" fill="#000" stroke="#000" stroke-width="0.15">8</text>
<circle cx="521.0" cy="87.0" r="7.6" fill="#fff" stroke="#707070" stroke-width="0.6"/>
<text x="521.0" y="89.8" font-size="9.7" font-weight="bold" text-anchor="middle" fill="#000" stroke="#000" stroke-width="0.15">31</text>
<circle cx="548.0" cy="90.5" r="7.6" fill="#fff" stroke="#707070" stroke-width="0.6"/>
<text x="548.0" y="93.2" font-size="9.7" font-weight="bold" text-anchor="middle" fill="#000" stroke="#000" stroke-width="0.15">9</text>
<circle cx="510.7" cy="110.4" r="7.6" fill="#fff" stroke="#707070" stroke-width="0.6"/>
<text x="510.7" y="113.2" font-size="9.7" font-weight="bold" text-anchor="middle" fill="#000" stroke="#000" stroke-width="0.15">26</text>
<circle cx="144.0" cy="171.0" r="7.6" fill="#fff" stroke="#707070" stroke-width="0.6"/>
<text x="144.0" y="173.8" font-size="9.7" font-weight="bold" text-anchor="middle" fill="#000" stroke="#000" stroke-width="0.15">19</text>
<circle cx="162.3" cy="178.6" r="7.6" fill="#fff" stroke="#707070" stroke-width="0.6"/>
<text x="162.3" y="181.3" font-size="9.7" font-weight="bold" text-anchor="middle" fill="#000" stroke="#000" stroke-width="0.15">17</text>
<circle cx="70.8" cy="162.0" r="7.6" fill="#fff" stroke="#707070" stroke-width="0.6"/>
<text x="70.8" y="164.8" font-size="9.7" font-weight="bold" text-anchor="middle" fill="#000" stroke="#000" stroke-width="0.15">22</text>
<circle cx="368.2" cy="155.8" r="7.6" fill="#fff" stroke="#707070" stroke-width="0.6"/>
<text x="368.2" y="158.6" font-size="9.7" font-weight="bold" text-anchor="middle" fill="#000" stroke="#000" stroke-width="0.15">10</text>
<circle cx="367.7" cy="174.6" r="7.6" fill="#fff" stroke="#707070" stroke-width="0.6"/>
<text x="367.7" y="177.3" font-size="9.7" font-weight="bold" text-anchor="middle" fill="#000" stroke="#000" stroke-width="0.15">22</text>
<circle cx="370.0" cy="201.8" r="7.6" fill="#fff" stroke="#707070" stroke-width="0.6"/>
<text x="370.0" y="204.6" font-size="9.7" font-weight="bold" text-anchor="middle" fill="#000" stroke="#000" stroke-width="0.15">21</text>
<circle cx="395.4" cy="155.0" r="7.6" fill="#fff" stroke="#707070" stroke-width="0.6"/>
<text x="395.4" y="157.8" font-size="9.7" font-weight="bold" text-anchor="middle" fill="#000" stroke="#000" stroke-width="0.15">1</text>
<circle cx="397.0" cy="173.7" r="7.6" fill="#fff" stroke="#707070" stroke-width="0.6"/>
<text x="397.0" y="176.4" font-size="9.7" font-weight="bold" text-anchor="middle" fill="#000" stroke="#000" stroke-width="0.15">3</text>
<circle cx="425.2" cy="184.6" r="7.6" fill="#fff" stroke="#707070" stroke-width="0.6"/>
<text x="425.2" y="187.3" font-size="9.7" font-weight="bold" text-anchor="middle" fill="#000" stroke="#000" stroke-width="0.15">5B</text>
<circle cx="397.0" cy="194.0" r="7.6" fill="#fff" stroke="#707070" stroke-width="0.6"/>
<text x="397.0" y="196.8" font-size="9.7" font-weight="bold" text-anchor="middle" fill="#000" stroke="#000" stroke-width="0.15">34</text>
<circle cx="541.7" cy="171.2" r="7.6" fill="#fff" stroke="#707070" stroke-width="0.6"/>
<text x="541.7" y="173.9" font-size="9.7" font-weight="bold" text-anchor="middle" fill="#000" stroke="#000" stroke-width="0.15">5C</text>
<circle cx="541.7" cy="187.2" r="7.6" fill="#fff" stroke="#707070" stroke-width="0.6"/>
<text x="541.7" y="189.9" font-size="9.7" font-weight="bold" text-anchor="middle" fill="#000" stroke="#000" stroke-width="0.15">5A</text>
<circle cx="523.4" cy="203.5" r="7.6" fill="#fff" stroke="#707070" stroke-width="0.6"/>
<text x="523.4" y="206.2" font-size="9.7" font-weight="bold" text-anchor="middle" fill="#000" stroke="#000" stroke-width="0.15">26</text>
<circle cx="552.6" cy="213.0" r="7.6" fill="#fff" stroke="#707070" stroke-width="0.6"/>
<text x="552.6" y="215.8" font-size="9.7" font-weight="bold" text-anchor="middle" fill="#000" stroke="#000" stroke-width="0.15">2</text>
<circle cx="581.0" cy="225.4" r="7.6" fill="#fff" stroke="#707070" stroke-width="0.6"/>
<text x="581.0" y="228.2" font-size="9.7" font-weight="bold" text-anchor="middle" fill="#000" stroke="#000" stroke-width="0.15">24</text>
<circle cx="412.0" cy="225.0" r="7.6" fill="#fff" stroke="#707070" stroke-width="0.6"/>
<text x="412.0" y="227.8" font-size="9.7" font-weight="bold" text-anchor="middle" fill="#000" stroke="#000" stroke-width="0.15">4</text>
<circle cx="450.5" cy="241.0" r="7.6" fill="#fff" stroke="#707070" stroke-width="0.6"/>
<text x="450.5" y="243.8" font-size="9.7" font-weight="bold" text-anchor="middle" fill="#000" stroke="#000" stroke-width="0.15">32</text>
<circle cx="458.0" cy="280.2" r="7.6" fill="#fff" stroke="#707070" stroke-width="0.6"/>
<text x="458.0" y="282.9" font-size="9.7" font-weight="bold" text-anchor="middle" fill="#000" stroke="#000" stroke-width="0.15">25</text>
<circle cx="512.9" cy="312.9" r="7.6" fill="#fff" stroke="#707070" stroke-width="0.6"/>
<text x="512.9" y="315.6" font-size="9.7" font-weight="bold" text-anchor="middle" fill="#000" stroke="#000" stroke-width="0.15">26</text>
<circle cx="379.4" cy="222.0" r="7.6" fill="#fff" stroke="#707070" stroke-width="0.6"/>
<text x="379.4" y="224.8" font-size="9.7" font-weight="bold" text-anchor="middle" fill="#000" stroke="#000" stroke-width="0.15">6</text>
<circle cx="612.3" cy="303.2" r="7.6" fill="#fff" stroke="#707070" stroke-width="0.6"/>
<text x="612.3" y="305.9" font-size="9.7" font-weight="bold" text-anchor="middle" fill="#000" stroke="#000" stroke-width="0.15">30</text>
<circle cx="536.7" cy="337.5" r="7.6" fill="#fff" stroke="#707070" stroke-width="0.6"/>
<text x="536.7" y="340.2" font-size="9.7" font-weight="bold" text-anchor="middle" fill="#000" stroke="#000" stroke-width="0.15">29</text>
<g stroke="#333" stroke-width="1.15" fill="none">
<path d="M0.9,760 V407.6 H307.4 V760"/>
<rect x="2.5" y="409.7" width="55.9" height="22.600000000000023"/>
<rect x="60.6" y="409.7" width="244.6" height="22.600000000000023"/>
<line x1="2.5" y1="434.4" x2="2.5" y2="748.4"/>
<line x1="58.4" y1="434.4" x2="58.4" y2="748.4"/>
<line x1="60.6" y1="434.4" x2="60.6" y2="748.4"/>
<line x1="305.2" y1="434.4" x2="305.2" y2="748.4"/>
</g>
<g stroke="#333" stroke-width="1.3" fill="none">
<path d="M2.5,434.40 H58.4 M60.6,434.40 H305.2" stroke-width="1.0"/>
<path d="M2.5,450.50 H58.4 M60.6,450.50 H305.2" stroke-width="1.2"/>
<path d="M2.5,467.05 H58.4 M60.6,467.05 H305.2" stroke-width="1.2"/>
<path d="M2.5,483.60 H58.4 M60.6,483.60 H305.2" stroke-width="1.2"/>
<path d="M2.5,500.15 H58.4 M60.6,500.15 H305.2" stroke-width="1.2"/>
<path d="M2.5,516.70 H58.4 M60.6,516.70 H305.2" stroke-width="1.2"/>
<path d="M2.5,533.25 H58.4 M60.6,533.25 H305.2" stroke-width="1.2"/>
<path d="M2.5,549.80 H58.4 M60.6,549.80 H305.2" stroke-width="1.2"/>
<path d="M2.5,566.35 H58.4 M60.6,566.35 H305.2" stroke-width="1.2"/>
<path d="M2.5,582.90 H58.4 M60.6,582.90 H305.2" stroke-width="1.2"/>
<path d="M2.5,599.45 H58.4 M60.6,599.45 H305.2" stroke-width="1.2"/>
<path d="M2.5,616.00 H58.4 M60.6,616.00 H305.2" stroke-width="1.2"/>
<path d="M2.5,632.55 H58.4 M60.6,632.55 H305.2" stroke-width="1.2"/>
<path d="M2.5,649.10 H58.4 M60.6,649.10 H305.2" stroke-width="1.2"/>
<path d="M2.5,665.65 H58.4 M60.6,665.65 H305.2" stroke-width="1.2"/>
<path d="M2.5,682.20 H58.4 M60.6,682.20 H305.2" stroke-width="1.2"/>
<path d="M2.5,698.75 H58.4 M60.6,698.75 H305.2" stroke-width="1.2"/>
<path d="M2.5,715.30 H58.4 M60.6,715.30 H305.2" stroke-width="1.2"/>
<path d="M2.5,731.85 H58.4 M60.6,731.85 H305.2" stroke-width="1.2"/>
<path d="M2.5,748.40 H58.4 M60.6,748.40 H305.2" stroke-width="1.2"/>
</g>
<g font-size="13.3" fill="#111">
<text transform="translate(30.9,425.7) scale(1.007,1.07)" text-anchor="middle">Part No.</text>
<text transform="translate(182.9,425.7) scale(1.007,1.07)" text-anchor="middle">Item</text>
<text transform="translate(30.9,447.3) scale(1.007,1.07)" text-anchor="middle">1</text>
<text transform="translate(61.9,447.3) scale(1.007,1.07)" text-anchor="start">Gun Housing</text>
<text transform="translate(30.9,463.9) scale(1.007,1.07)" text-anchor="middle">2</text>
<text transform="translate(61.9,463.9) scale(1.007,1.07)" text-anchor="start">Gun Housing Cap</text>
<text transform="translate(30.9,480.4) scale(1.007,1.07)" text-anchor="middle">3</text>
<text transform="translate(61.9,480.4) scale(1.007,1.07)" text-anchor="start">Inductor Coil (220V/50Hz, Coil Only)</text>
<text transform="translate(30.9,497.0) scale(1.007,1.07)" text-anchor="middle">4</text>
<text transform="translate(61.9,497.0) scale(1.007,1.07)" text-anchor="start">Trigger Switch Assembly</text>
<text transform="translate(30.9,513.5) scale(1.007,1.07)" text-anchor="middle">5A</text>
<text transform="translate(61.9,513.5) scale(1.007,1.07)" text-anchor="start">I Core</text>
<text transform="translate(30.9,530.0) scale(1.007,1.07)" text-anchor="middle">5B</text>
<text transform="translate(61.9,530.0) scale(1.007,1.07)" text-anchor="start">E Core with Inductor Coil</text>
<text transform="translate(30.9,546.6) scale(1.007,1.07)" text-anchor="middle">5C</text>
<text transform="translate(61.9,546.6) scale(1.007,1.07)" text-anchor="start">Coil Full Set (E Core + Coil + I Core)</text>
<text transform="translate(30.9,563.1) scale(1.007,1.07)" text-anchor="middle">6</text>
<text transform="translate(61.9,563.1) scale(1.007,1.07)" text-anchor="start">Electric Wire</text>
<text transform="translate(30.9,579.7) scale(1.007,1.07)" text-anchor="middle">7</text>
<text transform="translate(61.9,579.7) scale(1.007,1.07)" text-anchor="start">Pressure Control Bolt</text>
<text transform="translate(30.9,596.2) scale(1.007,1.07)" text-anchor="middle">8</text>
<text transform="translate(61.9,596.2) scale(1.007,1.07)" text-anchor="start">Pressure Control Knob</text>
<text transform="translate(30.9,612.8) scale(1.007,1.07)" text-anchor="middle">9</text>
<text transform="translate(61.9,612.8) scale(1.007,1.07)" text-anchor="start">Pressure Control Knob Spring</text>
<text transform="translate(30.9,629.4) scale(1.007,1.07)" text-anchor="middle">10</text>
<text transform="translate(61.9,629.4) scale(1.007,1.07)" text-anchor="start">Front Body</text>
<text transform="translate(30.9,645.9) scale(1.007,1.07)" text-anchor="middle">11</text>
<text transform="translate(61.9,645.9) scale(1.007,1.07)" text-anchor="start">Adjusting Roller</text>
<text transform="translate(30.9,662.5) scale(1.007,1.07)" text-anchor="middle">12</text>
<text transform="translate(61.9,662.5) scale(1.007,1.07)" text-anchor="start">Adjusting Roller Spring</text>
<text transform="translate(30.9,679.0) scale(1.007,1.07)" text-anchor="middle">13</text>
<text transform="translate(61.9,679.0) scale(1.007,1.07)" text-anchor="start">Pump Cylinder</text>
<text transform="translate(30.9,695.5) scale(1.007,1.07)" text-anchor="middle">14</text>
<text transform="translate(61.9,695.5) scale(1.007,1.07)" text-anchor="start">Piston</text>
<text transform="translate(30.9,712.1) scale(1.007,1.07)" text-anchor="middle">15</text>
<text transform="translate(61.9,712.1) scale(1.007,1.07)" text-anchor="start">Piston Spring</text>
<text transform="translate(30.9,728.7) scale(1.007,1.07)" text-anchor="middle">16</text>
<text transform="translate(61.9,728.7) scale(1.007,1.07)" text-anchor="start">Intermediate Rod</text>
<text transform="translate(30.9,745.2) scale(1.007,1.07)" text-anchor="middle">17</text>
<text transform="translate(61.9,745.2) scale(1.007,1.07)" text-anchor="start">Delivery Valve Cone</text>
</g>
<g stroke="#333" stroke-width="1.15" fill="none">
<path d="M330.8,760 V407.6 H636.4 V760"/>
<rect x="332.7" y="409.7" width="55.69999999999999" height="22.600000000000023"/>
<rect x="390.6" y="409.7" width="243.69999999999993" height="22.600000000000023"/>
<line x1="332.7" y1="434.4" x2="332.7" y2="748.4"/>
<line x1="388.4" y1="434.4" x2="388.4" y2="748.4"/>
<line x1="390.6" y1="434.4" x2="390.6" y2="748.4"/>
<line x1="634.3" y1="434.4" x2="634.3" y2="748.4"/>
</g>
<g stroke="#333" stroke-width="1.3" fill="none">
<path d="M332.7,434.40 H388.4 M390.6,434.40 H634.3" stroke-width="1.0"/>
<path d="M332.7,450.50 H388.4 M390.6,450.50 H634.3" stroke-width="1.2"/>
<path d="M332.7,467.05 H388.4 M390.6,467.05 H634.3" stroke-width="1.2"/>
<path d="M332.7,483.60 H388.4 M390.6,483.60 H634.3" stroke-width="1.2"/>
<path d="M332.7,500.15 H388.4 M390.6,500.15 H634.3" stroke-width="1.2"/>
<path d="M332.7,516.70 H388.4 M390.6,516.70 H634.3" stroke-width="1.2"/>
<path d="M332.7,533.25 H388.4 M390.6,533.25 H634.3" stroke-width="1.2"/>
<path d="M332.7,549.80 H388.4 M390.6,549.80 H634.3" stroke-width="1.2"/>
<path d="M332.7,566.35 H388.4 M390.6,566.35 H634.3" stroke-width="1.2"/>
<path d="M332.7,582.90 H388.4 M390.6,582.90 H634.3" stroke-width="1.2"/>
<path d="M332.7,599.45 H388.4 M390.6,599.45 H634.3" stroke-width="1.2"/>
<path d="M332.7,616.00 H388.4 M390.6,616.00 H634.3" stroke-width="1.2"/>
<path d="M332.7,632.55 H388.4 M390.6,632.55 H634.3" stroke-width="1.2"/>
<path d="M332.7,665.65 H388.4 M390.6,665.65 H634.3" stroke-width="1.2"/>
<path d="M332.7,682.20 H388.4 M390.6,682.20 H634.3" stroke-width="1.2"/>
<path d="M332.7,698.75 H388.4 M390.6,698.75 H634.3" stroke-width="1.2"/>
<path d="M332.7,715.30 H388.4 M390.6,715.30 H634.3" stroke-width="1.2"/>
<path d="M332.7,731.85 H388.4 M390.6,731.85 H634.3" stroke-width="1.2"/>
<path d="M332.7,748.40 H388.4 M390.6,748.40 H634.3" stroke-width="1.2"/>
</g>
<g font-size="13.3" fill="#111">
<text transform="translate(361.0,425.7) scale(1.007,1.07)" text-anchor="middle">Part No.</text>
<text transform="translate(512.5,425.7) scale(1.007,1.07)" text-anchor="middle">Item</text>
<text transform="translate(361.0,447.3) scale(1.007,1.07)" text-anchor="middle">18</text>
<text transform="translate(391.9,447.3) scale(1.007,1.07)" text-anchor="start">Delivery Valve Spring</text>
<text transform="translate(361.0,463.9) scale(1.007,1.07)" text-anchor="middle">19</text>
<text transform="translate(391.9,463.9) scale(1.007,1.07)" text-anchor="start">Swirl Head (17, 18, 19 Form a Set)</text>
<text transform="translate(361.0,480.4) scale(1.007,1.07)" text-anchor="middle">20</text>
<text transform="translate(391.9,480.4) scale(1.007,1.07)" text-anchor="start">Nozzle - Straight</text>
<text transform="translate(361.0,497.0) scale(1.007,1.07)" text-anchor="middle">20A</text>
<text transform="translate(391.9,497.0) scale(1.007,1.07)" text-anchor="start">Nozzle - Adjustable</text>
<text transform="translate(361.0,513.5) scale(1.007,1.07)" text-anchor="middle">21</text>
<text transform="translate(391.9,513.5) scale(1.007,1.07)" text-anchor="start">Solvent Jar</text>
<text transform="translate(361.0,530.0) scale(1.007,1.07)" text-anchor="middle">22</text>
<text transform="translate(391.9,530.0) scale(1.007,1.07)" text-anchor="start">Suction Pipe with Filter</text>
<text transform="translate(361.0,546.6) scale(1.007,1.07)" text-anchor="middle">23</text>
<text transform="translate(391.9,546.6) scale(1.007,1.07)" text-anchor="start">Conical Screw</text>
<text transform="translate(361.0,563.1) scale(1.007,1.07)" text-anchor="middle">24</text>
<text transform="translate(391.9,563.1) scale(1.007,1.07)" text-anchor="start">Connector Block</text>
<text transform="translate(361.0,579.7) scale(1.007,1.07)" text-anchor="middle">25</text>
<text transform="translate(391.9,579.7) scale(1.007,1.07)" text-anchor="start">Rubber Bush</text>
<text transform="translate(361.0,596.2) scale(1.007,1.07)" text-anchor="middle">26</text>
<text transform="translate(391.9,596.2) scale(1.007,1.07)" text-anchor="start">Gun Housing Screws (3 pcs)</text>
<text transform="translate(361.0,612.8) scale(1.007,1.07)" text-anchor="middle">27</text>
<text transform="translate(391.9,612.8) scale(1.007,1.07)" text-anchor="start">Nozzle Cleaner</text>
<text transform="translate(361.0,629.4) scale(1.007,1.07)" text-anchor="middle">28</text>
<text transform="translate(391.9,629.4) scale(1.007,1.07)" text-anchor="start">Allen Grub Screw M3</text>
<text transform="translate(361.0,645.9) scale(1.007,1.07)" text-anchor="middle">29</text>
<text transform="translate(391.9,645.9) scale(1.007,1.07)" text-anchor="start">Fuse Assembly (Fuse Holder, Glass</text>
<text transform="translate(391.9,662.5) scale(1.007,1.07)" text-anchor="start">Fuse &amp; Fuse Holder Cover)</text>
<text transform="translate(361.0,679.0) scale(1.007,1.07)" text-anchor="middle">30</text>
<text transform="translate(391.9,679.0) scale(1.007,1.07)" text-anchor="start">Glass Fuse [800mA]</text>
<text transform="translate(361.0,695.5) scale(1.007,1.07)" text-anchor="middle">31</text>
<text transform="translate(391.9,695.5) scale(1.007,1.07)" text-anchor="start">Coil Bush</text>
<text transform="translate(361.0,712.1) scale(1.007,1.07)" text-anchor="middle">32</text>
<text transform="translate(391.9,712.1) scale(1.007,1.07)" text-anchor="start">Switch Ring - Threaded</text>
<text transform="translate(361.0,728.7) scale(1.007,1.07)" text-anchor="middle">33</text>
<text transform="translate(391.9,728.7) scale(1.007,1.07)" text-anchor="start">Allen Key</text>
<text transform="translate(361.0,745.2) scale(1.007,1.07)" text-anchor="middle">34</text>
<text transform="translate(391.9,745.2) scale(1.007,1.07)" text-anchor="start">Coil Screw, Nut &amp; Washer</text>
</g>
<rect x="388.9" y="409.7" width="1.2" height="340" fill="#9a9a9a"/>
<rect x="634.3" y="407.6" width="2.7" height="343" fill="#666"/>
</svg>
</body></html>
